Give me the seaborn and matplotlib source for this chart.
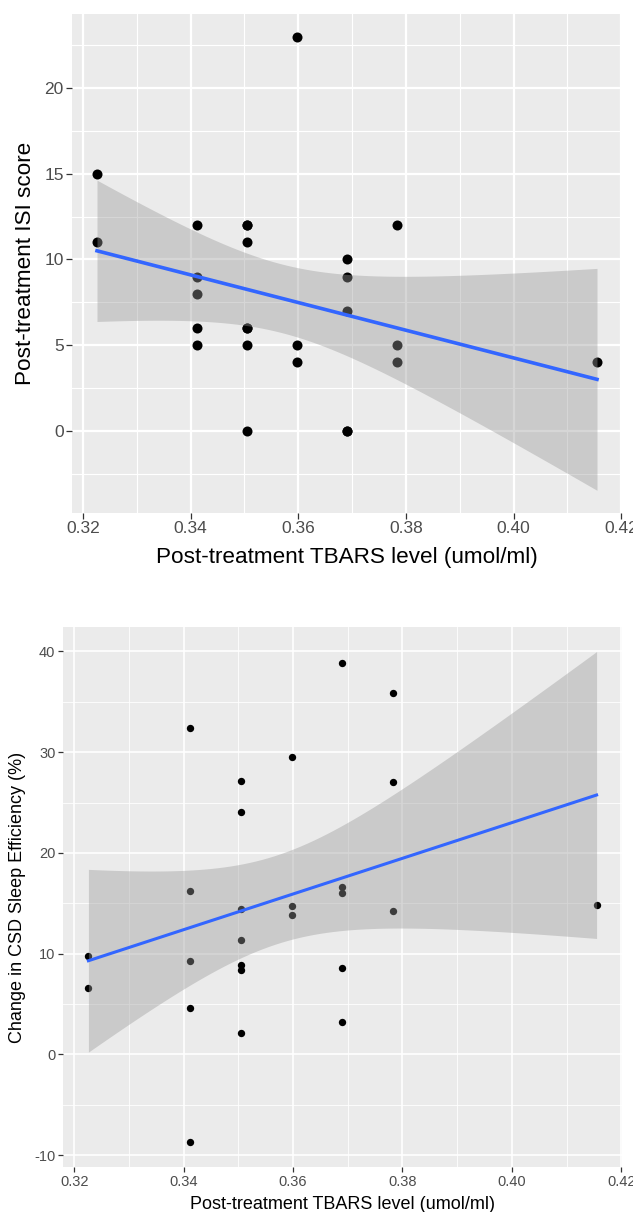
import math
import numpy as np
import pandas as pd
import matplotlib
matplotlib.use("Agg")
import matplotlib.pyplot as plt
import seaborn as sns
from matplotlib.ticker import MultipleLocator, FixedLocator

# ---------------- data ----------------
tbars = [0.3226, 0.3226,
         0.3412, 0.3412, 0.3412, 0.3412, 0.3412,
         0.3505, 0.3505, 0.3505, 0.3505, 0.3505, 0.3505, 0.3505,
         0.3598, 0.3598, 0.3598,
         0.3690, 0.3690, 0.3690, 0.3690, 0.3690,
         0.3783, 0.3783, 0.3783,
         0.4155]
isi_score = [15, 11,
             12, 9, 8, 6, 5,
             12, 12, 11, 6, 6, 5, 0,
             23, 5, 4,
             10, 9, 7, 0, 0,
             12, 5, 4,
             4]
csd_change = [9.75, 6.62,
              32.42, 16.21, 9.32, 4.61, -8.73,
              27.15, 24.02, 14.40, 11.37, 8.83, 8.40, 2.17,
              29.52, 14.70, 13.80,
              38.85, 16.64, 15.98, 8.60, 3.20,
              35.82, 26.99, 14.23,
              14.86]
x_ticks = [0.32, 0.34, 0.36, 0.38, 0.40, 0.42]
x_tick_labels = ["0.32", "0.34", "0.36", "0.38", "0.40", "0.42"]
isi_ticks = [0, 5, 10, 15, 20]
csd_ticks = [-10, 0, 10, 20, 30, 40]

xlabel = "Post-treatment TBARS level (umol/ml)"
ylabel_top = "Post-treatment ISI score"
ylabel_bot = "Change in CSD Sleep Efficiency (%)"

df = pd.DataFrame({"tbars": tbars, "isi": isi_score, "csd": csd_change})

BG = "#EBEBEB"
LINE = "#3366FF"
RIBBON = "#999999"


def t_ppf_975(dof):
    def pdf(t):
        c = math.exp(math.lgamma((dof + 1) / 2) - math.lgamma(dof / 2)) / math.sqrt(dof * math.pi)
        return c * (1 + t * t / dof) ** (-(dof + 1) / 2)
    lo, hi = 0.0, 10.0
    for _ in range(60):
        mid = (lo + hi) / 2
        g = np.linspace(0, mid, 2001)
        area = np.trapezoid(pdf(g), g)
        if 0.5 + area < 0.975:
            lo = mid
        else:
            hi = mid
    return (lo + hi) / 2


def lm_band(x, y, n_pts=80):
    x = np.asarray(x, float)
    y = np.asarray(y, float)
    n = len(x)
    xb = x.mean()
    sxx = ((x - xb) ** 2).sum()
    b1 = ((x - xb) * (y - y.mean())).sum() / sxx
    b0 = y.mean() - b1 * xb
    resid = y - (b0 + b1 * x)
    s = math.sqrt((resid ** 2).sum() / (n - 2))
    xs = np.linspace(x.min(), x.max(), n_pts)
    fit = b0 + b1 * xs
    se = s * np.sqrt(1 / n + (xs - xb) ** 2 / sxx)
    t = t_ppf_975(n - 2)
    return xs, fit, fit - t * se, fit + t * se


def panel(ax, ycol, yticks, ylabel, ptsize, lw, tick_fs, lab_fs, gmaj, gmin, ticklen, xpad):
    xs, fit, lo, hi = lm_band(df["tbars"], df[ycol])
    ax.set_facecolor(BG)
    for sp in ax.spines.values():
        sp.set_visible(False)
    sns.scatterplot(data=df, x="tbars", y=ycol, ax=ax, color="black", s=ptsize,
                    linewidth=0, zorder=2, legend=False)
    ax.fill_between(xs, lo, hi, color=RIBBON, alpha=0.4, linewidth=0, zorder=3)
    sns.lineplot(x=xs, y=fit, ax=ax, color=LINE, linewidth=lw, zorder=4)

    # ggplot-style limits (5% expansion)
    xmin, xmax = df["tbars"].min(), df["tbars"].max()
    xr = xmax - xmin
    ax.set_xlim(xmin - 0.05 * xr, xmax + 0.05 * xr)
    ymin = min(df[ycol].min(), lo.min())
    ymax = max(df[ycol].max(), hi.max())
    yr = ymax - ymin
    ax.set_ylim(ymin - 0.05 * yr, ymax + 0.05 * yr)

    ax.xaxis.set_major_locator(FixedLocator(x_ticks))
    ax.set_xticklabels(x_tick_labels)
    ax.xaxis.set_minor_locator(MultipleLocator(0.01))
    ax.yaxis.set_major_locator(FixedLocator(yticks))
    step = yticks[1] - yticks[0]
    ax.yaxis.set_minor_locator(MultipleLocator(step / 2))
    ax.grid(which="major", color="white", linewidth=gmaj)
    ax.grid(which="minor", color="white", linewidth=gmin)
    ax.set_axisbelow(True)
    ax.tick_params(which="major", length=ticklen, width=0.9, color="#333333",
                   labelcolor="#4D4D4D", labelsize=tick_fs, pad=2)
    ax.tick_params(which="minor", length=0)
    ax.set_xlabel(xlabel, fontsize=lab_fs, color="black", labelpad=xpad)
    ax.set_ylabel(ylabel, fontsize=lab_fs, color="black", labelpad=6)


plt.rcParams["font.family"] = ["Liberation Sans", "DejaVu Sans"]
plt.rcParams["axes.unicode_minus"] = False

W, H = 633, 1212
fig = plt.figure(figsize=(W / 100, H / 100), dpi=100)
fig.patch.set_facecolor("white")

ax1 = fig.add_axes([72 / W, (H - 513) / H, 550 / W, 499 / H])
panel(ax1, "isi", isi_ticks, ylabel_top, ptsize=52, lw=2.6, tick_fs=12.5, lab_fs=16.2,
      gmaj=1.6, gmin=0.8, ticklen=4, xpad=8)

ax2 = fig.add_axes([63 / W, (H - 1167) / H, 559 / W, 540 / H])
panel(ax2, "csd", csd_ticks, ylabel_bot, ptsize=28, lw=2.2, tick_fs=10.5, lab_fs=13,
      gmaj=1.2, gmin=0.6, ticklen=3.5, xpad=5)

fig.savefig("out.png", dpi=100)
